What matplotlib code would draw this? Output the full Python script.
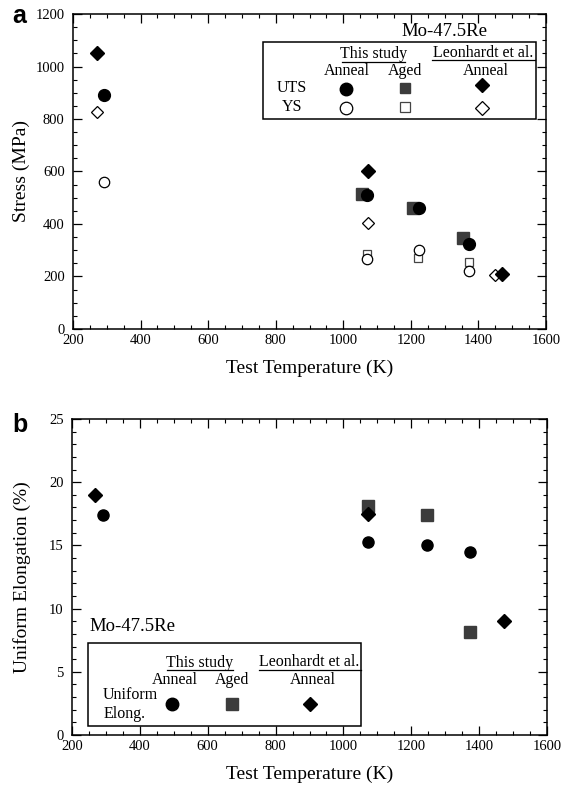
import numpy as np
import matplotlib.pyplot as plt
from matplotlib.ticker import MultipleLocator
from matplotlib.patches import Rectangle

plt.rcParams['font.family'] = ['Liberation Serif', 'DejaVu Serif']

# panel a: stress vs temperature
uts_anneal_T = [292, 1071, 1223, 1373]
uts_anneal = [893, 509, 462, 324]
uts_aged_T = [1056, 1207, 1355]
uts_aged = [515, 461, 345]
uts_leon_T = [272, 1072, 1471]
uts_leon = [1051, 603, 210]

ys_anneal_T = [292, 1071, 1223, 1373]
ys_anneal = [561, 267, 300, 220]
ys_aged_T = [1071, 1222, 1371]
ys_aged = [284, 271, 256]
ys_leon_T = [272, 1072, 1450]
ys_leon = [826, 403, 204]

# panel b: uniform elongation
ue_anneal_T = [290, 1071, 1247, 1373]
ue_anneal = [17.4, 15.25, 15.07, 14.46]
ue_aged_T = [1071, 1247, 1373]
ue_aged = [18.1, 17.4, 8.15]
ue_leon_T = [268, 1071, 1472]
ue_leon = [19.0, 17.5, 9.04]

sq_col = '#3c3c3c'
fs_leg = 11.5

fig = plt.figure(figsize=(5.72, 7.88), dpi=100)
ax1 = fig.add_axes([73/572, 1-329/788, 473/572, 315/788])
ax2 = fig.add_axes([72/572, 1-735/788, 475/572, 316/788])


def style(ax):
    ax.tick_params(which='both', direction='in', top=True, right=True, labelsize=10.5)
    ax.tick_params(axis='y', pad=6)
    ax.tick_params(which='major', length=6.5, width=0.9)
    ax.tick_params(which='minor', length=3.2, width=0.8)
    for s in ax.spines.values():
        s.set_linewidth(1.1)
    ax.set_xlim(200, 1600)
    ax.xaxis.set_major_locator(MultipleLocator(200))
    ax.xaxis.set_minor_locator(MultipleLocator(50))
    ax.set_xlabel('Test Temperature (K)', fontsize=14, labelpad=9)


def uline(ax, x0, x1, y):
    ax.plot([x0, x1], [y, y], color='black', lw=0.9, clip_on=False)


# ---- panel a
ax = ax1
ax.plot(uts_aged_T, uts_aged, 's', ms=8, color=sq_col, mec=sq_col, zorder=3)
ax.plot(uts_anneal_T, uts_anneal, 'o', ms=8.5, color='black', zorder=4)
ax.plot(uts_leon_T, uts_leon, 'D', ms=7.5, color='black', zorder=4)
ax.plot(ys_aged_T, ys_aged, 's', ms=6, mfc='white', mec='#444444', mew=0.9, zorder=3)
ax.plot(ys_anneal_T, ys_anneal, 'o', ms=7.5, mfc='white', mec='black', mew=0.9, zorder=4)
ax.plot(ys_leon_T, ys_leon, 'D', ms=6, mfc='white', mec='black', mew=0.9, zorder=3)
style(ax)
ax.set_ylim(0, 1200)
ax.yaxis.set_major_locator(MultipleLocator(200))
ax.yaxis.set_minor_locator(MultipleLocator(50))
ax.set_ylabel('Stress (MPa)', fontsize=14, labelpad=4)

ax.text(1298, 1133, 'Mo-47.5Re', fontsize=13.5, ha='center', va='center')
ax.add_patch(Rectangle((763, 799), 808, 293, fill=False, lw=1.1, ec='black', zorder=2))
ax.text(1090, 1048, 'This study', fontsize=fs_leg, ha='center', va='center')
uline(ax, 996, 1184, 1018)
ax.text(1414, 1053, 'Leonhardt et al.', fontsize=fs_leg, ha='center', va='center')
uline(ax, 1262, 1566, 1025)
ax.text(1012, 983, 'Anneal', fontsize=fs_leg, ha='center', va='center')
ax.text(1182, 983, 'Aged', fontsize=fs_leg, ha='center', va='center')
ax.text(1422, 983, 'Anneal', fontsize=fs_leg, ha='center', va='center')
ax.text(848, 920, 'UTS', fontsize=fs_leg, ha='center', va='center')
ax.text(848, 845, 'YS', fontsize=fs_leg, ha='center', va='center')
ax.plot([1007], [913], 'o', ms=9, color='black')
ax.plot([1182], [917], 's', ms=7.5, color=sq_col)
ax.plot([1411], [929], 'D', ms=7.5, color='black')
ax.plot([1007], [841], 'o', ms=9, mfc='white', mec='black', mew=0.9)
ax.plot([1182], [847], 's', ms=7, mfc='white', mec='#444444', mew=0.9)
ax.plot([1411], [841], 'D', ms=7.5, mfc='white', mec='black', mew=0.9)
fig.text(12/572, 1-16/788, 'a', fontsize=18, fontweight='bold', family='Liberation Sans', va='center')

# ---- panel b
ax = ax2
ax.plot(ue_aged_T, ue_aged, 's', ms=8, color=sq_col, zorder=3)
ax.plot(ue_anneal_T, ue_anneal, 'o', ms=8, color='black', zorder=4)
ax.plot(ue_leon_T, ue_leon, 'D', ms=7.5, color='black', zorder=4)
style(ax)
ax.set_ylim(0, 25)
ax.yaxis.set_major_locator(MultipleLocator(5))
ax.yaxis.set_minor_locator(MultipleLocator(1))
ax.set_ylabel('Uniform Elongation (%)', fontsize=14, labelpad=13)

ax.text(252, 8.6, 'Mo-47.5Re', fontsize=13.5, ha='left', va='center')
ax.add_patch(Rectangle((246, 0.68), 807, 6.59, fill=False, lw=1.1, ec='black', zorder=2))
ax.text(577, 5.72, 'This study', fontsize=fs_leg, ha='center', va='center')
uline(ax, 480, 674, 5.18)
ax.text(900, 5.76, 'Leonhardt et al.', fontsize=fs_leg, ha='center', va='center')
uline(ax, 750, 1053, 5.18)
ax.text(502, 4.32, 'Anneal', fontsize=fs_leg, ha='center', va='center')
ax.text(671, 4.32, 'Aged', fontsize=fs_leg, ha='center', va='center')
ax.text(910, 4.32, 'Anneal', fontsize=fs_leg, ha='center', va='center')
ax.text(292, 3.2, 'Uniform', fontsize=fs_leg, ha='left', va='center')
ax.text(292, 1.7, 'Elong.', fontsize=fs_leg, ha='left', va='center')
ax.plot([496], [2.48], 'o', ms=9, color='black')
ax.plot([671], [2.48], 's', ms=8, color=sq_col)
ax.plot([901], [2.48], 'D', ms=7.5, color='black')
fig.text(12/572, 1-425/788, 'b', fontsize=18, fontweight='bold', family='Liberation Sans', va='center')

fig.savefig('out.png', dpi=100)
